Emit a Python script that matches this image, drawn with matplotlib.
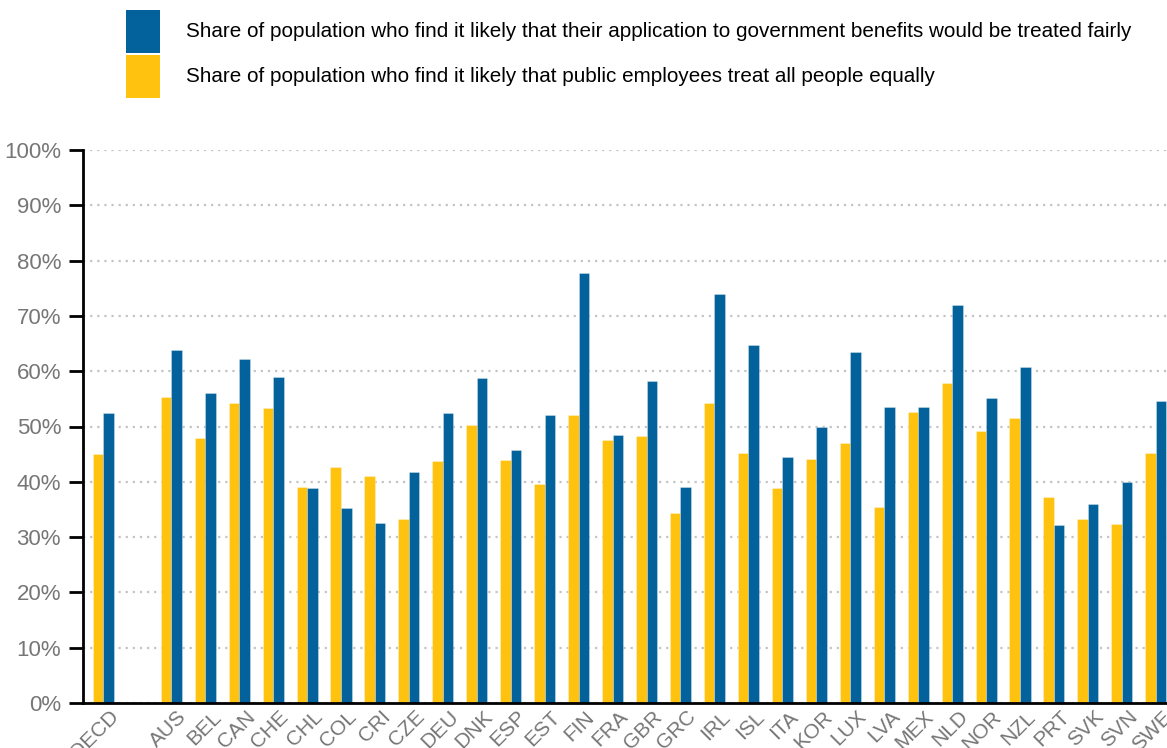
import matplotlib
matplotlib.use("Agg")
import matplotlib.pyplot as plt
from matplotlib.patches import Rectangle
from matplotlib.transforms import ScaledTranslation
import numpy as np

plt.rcParams['font.family'] = ['Liberation Sans', 'DejaVu Sans']

# Data
countries = ["OECD", "AUS", "BEL", "CAN", "CHE", "CHL", "COL", "CRI", "CZE", "DEU",
             "DNK", "ESP", "EST", "FIN", "FRA", "GBR", "GRC", "IRL", "ISL", "ITA",
             "KOR", "LUX", "LVA", "MEX", "NLD", "NOR", "NZL", "PRT", "SVK", "SVN", "SWE"]
treated_equally = [45.0, 55.3, 48.0, 54.2, 53.4, 39.1, 42.7, 41.0, 33.3, 43.8,
                   50.3, 44.0, 39.6, 52.0, 47.5, 48.2, 34.3, 54.2, 45.2, 38.9,
                   44.2, 47.0, 35.5, 52.6, 57.8, 49.2, 51.5, 37.3, 33.3, 32.4, 45.2]
treated_fairly = [52.4, 63.8, 56.1, 62.2, 59.0, 38.8, 35.3, 32.5, 41.7, 52.4,
                  58.8, 45.7, 52.1, 77.8, 48.4, 58.2, 39.0, 73.9, 64.7, 44.4,
                  50.0, 63.4, 53.5, 53.5, 72.0, 55.2, 60.8, 32.1, 36.0, 40.0, 54.7]
legend_labels = [
    "Share of population who find it likely that their application to government benefits would be treated fairly",
    "Share of population who find it likely that public employees treat all people equally",
]

BLUE = "#03629b"
YELLOW = "#ffc20f"
GREY = "#767676"

W, H = 1167, 748
fig = plt.figure(figsize=(W / 100, H / 100), dpi=100)
ax = fig.add_axes([83.3 / W, 1 - 703 / H, 1 - 83.3 / W, (703 - 150) / H])

# OECD average sits apart from the country bars
x = np.array([0] + list(range(2, 2 + len(countries) - 1)), dtype=float)
bw = 0.31
ax.bar(x - bw / 2, treated_equally, width=bw, color=YELLOW, edgecolor=(1, 1, 1, 0.35),
       linewidth=0.6, zorder=3)
ax.bar(x + bw / 2, treated_fairly, width=bw, color=BLUE, edgecolor=(1, 1, 1, 0.35),
       linewidth=0.6, zorder=3)

ax.set_xlim(-0.59, 31.33)
ax.set_ylim(0, 100)
ax.set_yticks(np.arange(0, 101, 10))
ax.set_yticklabels([f"{v}%" for v in range(0, 101, 10)], fontsize=16, color=GREY)
ax.tick_params(axis='y', length=10, width=2, color='black', pad=6, direction='out')

ax.set_xticks(x)
ax.set_xticklabels(countries, fontsize=15, color=GREY, rotation=45,
                   ha='right', va='top', rotation_mode='anchor')
ax.tick_params(axis='x', length=0, pad=3)
shift = ScaledTranslation(6 / 100, 0, fig.dpi_scale_trans)
for lbl in ax.get_xticklabels():
    lbl.set_transform(lbl.get_transform() + shift)

ax.grid(axis='y', linestyle=(0, (1, 2.2)), color='#c4c4c4', linewidth=1.6, zorder=0)
ax.set_axisbelow(True)
for s in ['top', 'right']:
    ax.spines[s].set_visible(False)
for s in ['left', 'bottom']:
    ax.spines[s].set_linewidth(2)
    ax.spines[s].set_color('black')
    ax.spines[s].set_zorder(4)

# Legend drawn as figure-level swatches and text
swatches = [(BLUE, 10, 53), (YELLOW, 55, 98)]
for (col, top, bot), label in zip(swatches, legend_labels):
    fig.add_artist(Rectangle((126 / W, 1 - bot / H), 34 / W, (bot - top) / H,
                             transform=fig.transFigure, facecolor=col, edgecolor='none'))
    fig.text(186 / W, 1 - (top + bot) / 2 / H, label, fontsize=14.9, color='black',
             ha='left', va='center')

fig.savefig("out.png", dpi=100)
